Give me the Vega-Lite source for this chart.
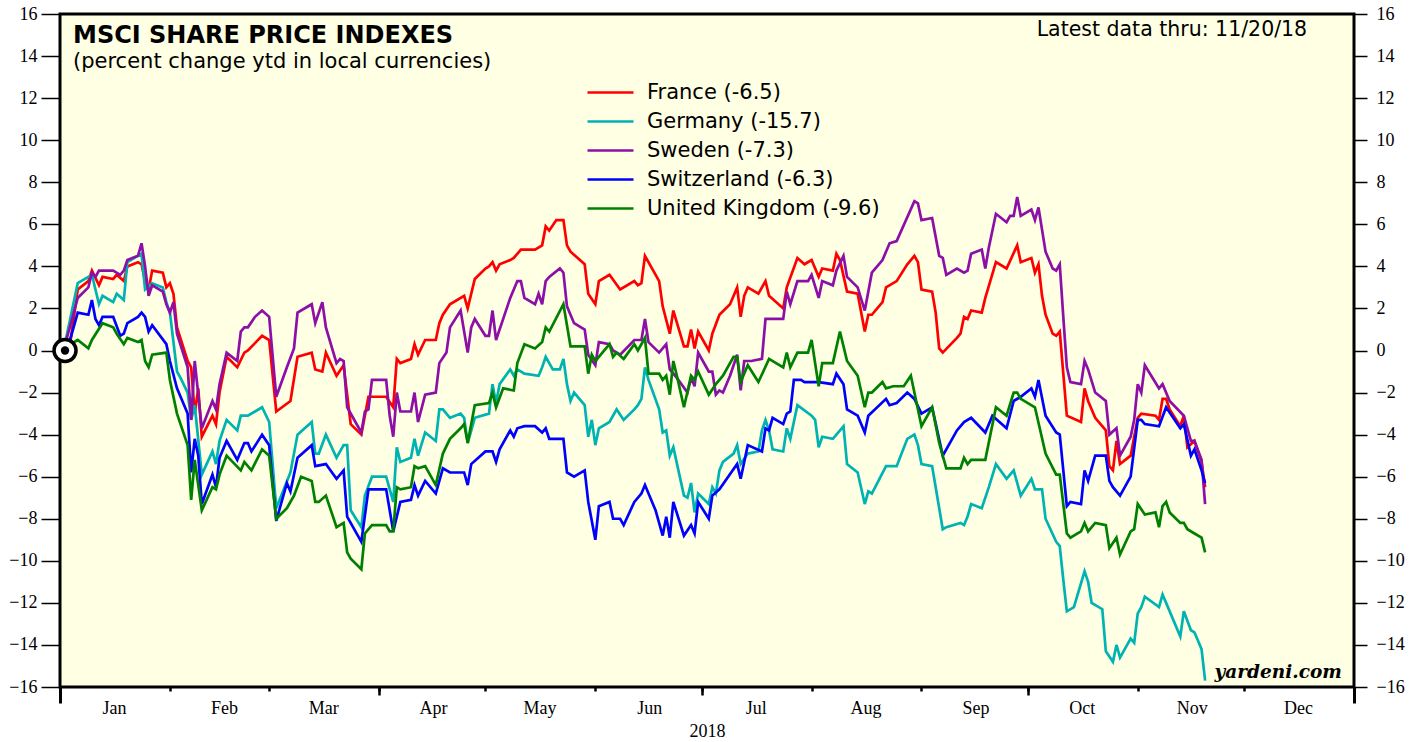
{
"$schema":"https://vega.github.io/schema/vega-lite/v6.json",
"width":1294,"height":673,
"autosize":{"type":"none"},
"padding":{"left":60,"top":14,"right":65,"bottom":55},
"background":"white",
"view":{"fill":"#FFFFE3","stroke":"black","strokeWidth":3},
"config":{"axis":{"labelFont":"Liberation Serif","labelFontSize":18,"labelColor":"black","tickColor":"black","tickWidth":1.5,"domain":false,"grid":false,"titleFont":"Liberation Serif","titleFontWeight":"normal","titleFontSize":18,"titleColor":"black"}},
"datasets":{
"F":[{"d":"2018-01-02","v":0},{"d":"2018-01-04","v":0.5},{"d":"2018-01-06","v":2.9},{"d":"2018-01-09","v":3.3},{"d":"2018-01-10","v":3.8},{"d":"2018-01-12","v":3.1},{"d":"2018-01-13","v":3.5},{"d":"2018-01-16","v":3.4},{"d":"2018-01-17","v":3.6},{"d":"2018-01-19","v":3.3},{"d":"2018-01-20","v":4.0},{"d":"2018-01-23","v":4.2},{"d":"2018-01-24","v":4.1},{"d":"2018-01-25","v":3.3},{"d":"2018-01-26","v":2.9},{"d":"2018-01-27","v":3.8},{"d":"2018-01-30","v":3.7},{"d":"2018-01-31","v":3.0},{"d":"2018-02-01","v":3.2},{"d":"2018-02-02","v":2.7},{"d":"2018-02-03","v":1.1},{"d":"2018-02-06","v":-0.5},{"d":"2018-02-07","v":-0.8},{"d":"2018-02-08","v":-3.0},{"d":"2018-02-09","v":-1.8},{"d":"2018-02-10","v":-4.1},{"d":"2018-02-13","v":-3.1},{"d":"2018-02-14","v":-3.5},{"d":"2018-02-15","v":-2.0},{"d":"2018-02-17","v":-0.3},{"d":"2018-02-20","v":-0.8},{"d":"2018-02-22","v":-0.1},{"d":"2018-02-23","v":0.0},{"d":"2018-02-27","v":0.7},{"d":"2018-03-01","v":0.5},{"d":"2018-03-03","v":-2.9},{"d":"2018-03-07","v":-2.4},{"d":"2018-03-09","v":-0.3},{"d":"2018-03-13","v":-0.1},{"d":"2018-03-14","v":-0.9},{"d":"2018-03-16","v":-1.0},{"d":"2018-03-17","v":-0.1},{"d":"2018-03-20","v":-1.2},{"d":"2018-03-22","v":-0.7},{"d":"2018-03-24","v":-3.5},{"d":"2018-03-27","v":-4.0},{"d":"2018-03-29","v":-2.2},{"d":"2018-04-03","v":-2.2},{"d":"2018-04-05","v":-2.7},{"d":"2018-04-06","v":-0.4},{"d":"2018-04-07","v":-0.6},{"d":"2018-04-10","v":-0.4},{"d":"2018-04-11","v":0.3},{"d":"2018-04-12","v":-0.2},{"d":"2018-04-14","v":0.5},{"d":"2018-04-17","v":0.5},{"d":"2018-04-18","v":1.3},{"d":"2018-04-19","v":1.7},{"d":"2018-04-21","v":2.2},{"d":"2018-04-25","v":2.6},{"d":"2018-04-26","v":2.0},{"d":"2018-04-28","v":3.4},{"d":"2018-05-01","v":3.9},{"d":"2018-05-02","v":4.0},{"d":"2018-05-03","v":4.2},{"d":"2018-05-04","v":3.8},{"d":"2018-05-05","v":4.1},{"d":"2018-05-08","v":4.3},{"d":"2018-05-09","v":4.4},{"d":"2018-05-11","v":4.8},{"d":"2018-05-15","v":4.8},{"d":"2018-05-17","v":5.0},{"d":"2018-05-18","v":5.9},{"d":"2018-05-19","v":5.7},{"d":"2018-05-21","v":6.2},{"d":"2018-05-23","v":6.2},{"d":"2018-05-24","v":5.0},{"d":"2018-05-25","v":4.7},{"d":"2018-05-29","v":4.1},{"d":"2018-05-30","v":2.7},{"d":"2018-06-01","v":2.2},{"d":"2018-06-02","v":3.3},{"d":"2018-06-05","v":3.6},{"d":"2018-06-08","v":2.9},{"d":"2018-06-12","v":3.3},{"d":"2018-06-13","v":3.1},{"d":"2018-06-14","v":3.2},{"d":"2018-06-15","v":4.5},{"d":"2018-06-19","v":3.3},{"d":"2018-06-20","v":2.1},{"d":"2018-06-22","v":0.8},{"d":"2018-06-23","v":1.9},{"d":"2018-06-26","v":0.2},{"d":"2018-06-27","v":0.2},{"d":"2018-06-28","v":1.0},{"d":"2018-06-29","v":0.1},{"d":"2018-06-30","v":0.9},{"d":"2018-07-03","v":0.0},{"d":"2018-07-04","v":0.8},{"d":"2018-07-06","v":1.7},{"d":"2018-07-09","v":2.2},{"d":"2018-07-11","v":3.0},{"d":"2018-07-12","v":1.6},{"d":"2018-07-13","v":2.6},{"d":"2018-07-14","v":3.0},{"d":"2018-07-17","v":2.7},{"d":"2018-07-19","v":3.3},{"d":"2018-07-20","v":2.6},{"d":"2018-07-24","v":2.0},{"d":"2018-07-25","v":3.0},{"d":"2018-07-28","v":4.4},{"d":"2018-07-30","v":4.1},{"d":"2018-08-01","v":4.3},{"d":"2018-08-03","v":3.5},{"d":"2018-08-04","v":3.9},{"d":"2018-08-07","v":3.8},{"d":"2018-08-08","v":4.6},{"d":"2018-08-09","v":4.3},{"d":"2018-08-11","v":2.8},{"d":"2018-08-14","v":2.7},{"d":"2018-08-16","v":0.9},{"d":"2018-08-17","v":1.7},{"d":"2018-08-18","v":1.7},{"d":"2018-08-21","v":2.3},{"d":"2018-08-22","v":3.0},{"d":"2018-08-25","v":3.3},{"d":"2018-08-28","v":4.1},{"d":"2018-08-30","v":4.5},{"d":"2018-08-31","v":4.2},{"d":"2018-09-01","v":2.9},{"d":"2018-09-04","v":2.8},{"d":"2018-09-05","v":1.8},{"d":"2018-09-06","v":0.1},{"d":"2018-09-07","v":-0.1},{"d":"2018-09-11","v":0.6},{"d":"2018-09-12","v":0.8},{"d":"2018-09-13","v":1.6},{"d":"2018-09-14","v":1.5},{"d":"2018-09-15","v":1.9},{"d":"2018-09-18","v":1.8},{"d":"2018-09-19","v":2.5},{"d":"2018-09-22","v":4.2},{"d":"2018-09-25","v":3.9},{"d":"2018-09-28","v":5.0},{"d":"2018-09-29","v":4.2},{"d":"2018-10-02","v":4.4},{"d":"2018-10-03","v":3.7},{"d":"2018-10-04","v":4.1},{"d":"2018-10-05","v":2.6},{"d":"2018-10-06","v":1.7},{"d":"2018-10-08","v":0.8},{"d":"2018-10-09","v":0.7},{"d":"2018-10-10","v":0.9},{"d":"2018-10-11","v":-1.1},{"d":"2018-10-12","v":-3.1},{"d":"2018-10-16","v":-3.4},{"d":"2018-10-17","v":-1.8},{"d":"2018-10-18","v":-2.4},{"d":"2018-10-20","v":-3.2},{"d":"2018-10-23","v":-3.8},{"d":"2018-10-24","v":-5.5},{"d":"2018-10-25","v":-5.7},{"d":"2018-10-26","v":-4.3},{"d":"2018-10-27","v":-5.4},{"d":"2018-10-30","v":-5.0},{"d":"2018-11-01","v":-3.2},{"d":"2018-11-02","v":-3.0},{"d":"2018-11-06","v":-3.1},{"d":"2018-11-07","v":-3.3},{"d":"2018-11-08","v":-2.3},{"d":"2018-11-09","v":-2.3},{"d":"2018-11-10","v":-2.8},{"d":"2018-11-13","v":-3.6},{"d":"2018-11-14","v":-3.1},{"d":"2018-11-15","v":-4.6},{"d":"2018-11-17","v":-4.3},{"d":"2018-11-19","v":-5.3},{"d":"2018-11-20","v":-6.5}],
"G":[{"d":"2018-01-02","v":0},{"d":"2018-01-06","v":3.2},{"d":"2018-01-10","v":3.6},{"d":"2018-01-12","v":2.2},{"d":"2018-01-13","v":2.6},{"d":"2018-01-16","v":2.3},{"d":"2018-01-17","v":2.7},{"d":"2018-01-19","v":2.4},{"d":"2018-01-20","v":4.2},{"d":"2018-01-23","v":4.5},{"d":"2018-01-24","v":4.6},{"d":"2018-01-25","v":2.9},{"d":"2018-01-27","v":3.2},{"d":"2018-01-30","v":3.0},{"d":"2018-01-31","v":2.3},{"d":"2018-02-01","v":1.8},{"d":"2018-02-03","v":-1.0},{"d":"2018-02-04","v":-1.3},{"d":"2018-02-06","v":-2.0},{"d":"2018-02-07","v":-3.3},{"d":"2018-02-08","v":-2.6},{"d":"2018-02-10","v":-5.9},{"d":"2018-02-13","v":-4.8},{"d":"2018-02-14","v":-5.4},{"d":"2018-02-15","v":-4.3},{"d":"2018-02-17","v":-3.3},{"d":"2018-02-20","v":-3.8},{"d":"2018-02-21","v":-3.1},{"d":"2018-02-23","v":-3.1},{"d":"2018-02-27","v":-2.7},{"d":"2018-03-01","v":-3.4},{"d":"2018-03-03","v":-7.5},{"d":"2018-03-07","v":-5.8},{"d":"2018-03-09","v":-4.0},{"d":"2018-03-13","v":-3.4},{"d":"2018-03-14","v":-4.9},{"d":"2018-03-15","v":-4.9},{"d":"2018-03-17","v":-4.0},{"d":"2018-03-20","v":-5.1},{"d":"2018-03-22","v":-4.5},{"d":"2018-03-23","v":-4.5},{"d":"2018-03-24","v":-7.6},{"d":"2018-03-27","v":-8.4},{"d":"2018-03-28","v":-6.9},{"d":"2018-03-30","v":-6.0},{"d":"2018-04-03","v":-6.0},{"d":"2018-04-05","v":-7.2},{"d":"2018-04-06","v":-4.6},{"d":"2018-04-07","v":-5.3},{"d":"2018-04-10","v":-5.1},{"d":"2018-04-11","v":-4.2},{"d":"2018-04-12","v":-5.0},{"d":"2018-04-14","v":-3.9},{"d":"2018-04-17","v":-4.3},{"d":"2018-04-18","v":-2.8},{"d":"2018-04-19","v":-2.8},{"d":"2018-04-21","v":-3.2},{"d":"2018-04-24","v":-3.0},{"d":"2018-04-25","v":-3.2},{"d":"2018-04-26","v":-4.4},{"d":"2018-04-28","v":-3.2},{"d":"2018-05-02","v":-3.0},{"d":"2018-05-03","v":-1.6},{"d":"2018-05-04","v":-2.5},{"d":"2018-05-05","v":-1.6},{"d":"2018-05-08","v":-0.9},{"d":"2018-05-09","v":-1.2},{"d":"2018-05-10","v":-0.9},{"d":"2018-05-12","v":-1.1},{"d":"2018-05-16","v":-1.2},{"d":"2018-05-17","v":-0.8},{"d":"2018-05-18","v":-0.3},{"d":"2018-05-20","v":-0.9},{"d":"2018-05-22","v":-0.9},{"d":"2018-05-23","v":-0.4},{"d":"2018-05-24","v":-1.6},{"d":"2018-05-25","v":-2.4},{"d":"2018-05-26","v":-2.0},{"d":"2018-05-29","v":-2.6},{"d":"2018-05-30","v":-4.1},{"d":"2018-05-31","v":-3.3},{"d":"2018-06-01","v":-4.5},{"d":"2018-06-02","v":-3.7},{"d":"2018-06-05","v":-3.4},{"d":"2018-06-07","v":-2.8},{"d":"2018-06-09","v":-3.3},{"d":"2018-06-12","v":-2.8},{"d":"2018-06-13","v":-2.6},{"d":"2018-06-14","v":-2.3},{"d":"2018-06-15","v":-0.8},{"d":"2018-06-16","v":-1.4},{"d":"2018-06-19","v":-2.8},{"d":"2018-06-20","v":-3.9},{"d":"2018-06-21","v":-3.8},{"d":"2018-06-22","v":-5.0},{"d":"2018-06-23","v":-4.6},{"d":"2018-06-26","v":-6.9},{"d":"2018-06-27","v":-7.0},{"d":"2018-06-28","v":-6.3},{"d":"2018-06-29","v":-7.7},{"d":"2018-06-30","v":-6.8},{"d":"2018-07-03","v":-7.3},{"d":"2018-07-04","v":-6.5},{"d":"2018-07-05","v":-6.8},{"d":"2018-07-06","v":-5.7},{"d":"2018-07-07","v":-5.3},{"d":"2018-07-10","v":-4.9},{"d":"2018-07-11","v":-4.5},{"d":"2018-07-12","v":-5.4},{"d":"2018-07-14","v":-4.9},{"d":"2018-07-17","v":-4.8},{"d":"2018-07-18","v":-3.8},{"d":"2018-07-19","v":-3.3},{"d":"2018-07-20","v":-3.8},{"d":"2018-07-21","v":-4.7},{"d":"2018-07-24","v":-4.8},{"d":"2018-07-25","v":-3.7},{"d":"2018-07-26","v":-4.2},{"d":"2018-07-28","v":-2.6},{"d":"2018-08-01","v":-3.1},{"d":"2018-08-02","v":-3.3},{"d":"2018-08-03","v":-4.6},{"d":"2018-08-04","v":-4.1},{"d":"2018-08-07","v":-4.2},{"d":"2018-08-08","v":-4.0},{"d":"2018-08-10","v":-3.6},{"d":"2018-08-11","v":-5.4},{"d":"2018-08-14","v":-5.8},{"d":"2018-08-16","v":-7.3},{"d":"2018-08-17","v":-6.7},{"d":"2018-08-18","v":-6.8},{"d":"2018-08-22","v":-5.5},{"d":"2018-08-25","v":-5.5},{"d":"2018-08-28","v":-4.2},{"d":"2018-08-30","v":-4.0},{"d":"2018-08-31","v":-4.5},{"d":"2018-09-01","v":-5.4},{"d":"2018-09-04","v":-5.5},{"d":"2018-09-07","v":-8.5},{"d":"2018-09-08","v":-8.4},{"d":"2018-09-12","v":-8.2},{"d":"2018-09-13","v":-8.3},{"d":"2018-09-14","v":-7.9},{"d":"2018-09-15","v":-7.3},{"d":"2018-09-18","v":-7.5},{"d":"2018-09-20","v":-6.5},{"d":"2018-09-22","v":-5.4},{"d":"2018-09-25","v":-6.1},{"d":"2018-09-27","v":-5.7},{"d":"2018-09-29","v":-6.9},{"d":"2018-10-02","v":-6.1},{"d":"2018-10-03","v":-6.6},{"d":"2018-10-05","v":-6.6},{"d":"2018-10-06","v":-8.0},{"d":"2018-10-09","v":-9.1},{"d":"2018-10-10","v":-9.3},{"d":"2018-10-11","v":-10.9},{"d":"2018-10-12","v":-12.4},{"d":"2018-10-14","v":-12.2},{"d":"2018-10-17","v":-10.5},{"d":"2018-10-18","v":-11.0},{"d":"2018-10-19","v":-12.0},{"d":"2018-10-22","v":-12.3},{"d":"2018-10-23","v":-14.3},{"d":"2018-10-25","v":-14.8},{"d":"2018-10-26","v":-14.0},{"d":"2018-10-27","v":-14.6},{"d":"2018-10-30","v":-13.7},{"d":"2018-10-31","v":-13.9},{"d":"2018-11-01","v":-12.5},{"d":"2018-11-02","v":-12.2},{"d":"2018-11-03","v":-11.7},{"d":"2018-11-07","v":-12.2},{"d":"2018-11-08","v":-11.6},{"d":"2018-11-09","v":-12.0},{"d":"2018-11-13","v":-13.6},{"d":"2018-11-14","v":-12.4},{"d":"2018-11-16","v":-13.3},{"d":"2018-11-17","v":-13.4},{"d":"2018-11-19","v":-14.2},{"d":"2018-11-20","v":-15.7}],
"S":[{"d":"2018-01-02","v":0},{"d":"2018-01-06","v":2.5},{"d":"2018-01-09","v":3.0},{"d":"2018-01-10","v":3.7},{"d":"2018-01-11","v":3.5},{"d":"2018-01-12","v":3.8},{"d":"2018-01-16","v":3.8},{"d":"2018-01-18","v":3.6},{"d":"2018-01-19","v":3.8},{"d":"2018-01-20","v":4.3},{"d":"2018-01-23","v":4.5},{"d":"2018-01-24","v":5.1},{"d":"2018-01-25","v":4.0},{"d":"2018-01-26","v":2.6},{"d":"2018-01-27","v":3.1},{"d":"2018-01-30","v":2.8},{"d":"2018-01-31","v":2.2},{"d":"2018-02-01","v":1.8},{"d":"2018-02-02","v":2.3},{"d":"2018-02-03","v":0.8},{"d":"2018-02-06","v":-0.8},{"d":"2018-02-07","v":-3.3},{"d":"2018-02-08","v":-0.5},{"d":"2018-02-10","v":-3.7},{"d":"2018-02-13","v":-2.4},{"d":"2018-02-14","v":-2.8},{"d":"2018-02-15","v":-1.6},{"d":"2018-02-17","v":-0.1},{"d":"2018-02-20","v":-0.5},{"d":"2018-02-21","v":0.9},{"d":"2018-02-22","v":1.1},{"d":"2018-02-23","v":1.1},{"d":"2018-02-25","v":1.6},{"d":"2018-02-27","v":1.9},{"d":"2018-03-01","v":1.6},{"d":"2018-03-03","v":-2.2},{"d":"2018-03-06","v":-0.8},{"d":"2018-03-08","v":0.1},{"d":"2018-03-09","v":1.8},{"d":"2018-03-13","v":2.2},{"d":"2018-03-14","v":1.3},{"d":"2018-03-16","v":2.3},{"d":"2018-03-17","v":1.1},{"d":"2018-03-20","v":-0.6},{"d":"2018-03-21","v":-0.4},{"d":"2018-03-22","v":-0.5},{"d":"2018-03-23","v":-2.7},{"d":"2018-03-27","v":-3.9},{"d":"2018-03-28","v":-2.9},{"d":"2018-03-29","v":-2.8},{"d":"2018-03-30","v":-1.4},{"d":"2018-04-03","v":-1.4},{"d":"2018-04-04","v":-3.1},{"d":"2018-04-05","v":-4.1},{"d":"2018-04-06","v":-2.0},{"d":"2018-04-07","v":-2.9},{"d":"2018-04-10","v":-2.9},{"d":"2018-04-11","v":-2.0},{"d":"2018-04-12","v":-3.4},{"d":"2018-04-14","v":-2.1},{"d":"2018-04-17","v":-2.0},{"d":"2018-04-18","v":-0.6},{"d":"2018-04-20","v":-0.1},{"d":"2018-04-21","v":1.1},{"d":"2018-04-24","v":1.9},{"d":"2018-04-26","v":-0.1},{"d":"2018-04-27","v":1.1},{"d":"2018-04-28","v":1.5},{"d":"2018-05-01","v":0.7},{"d":"2018-05-02","v":0.7},{"d":"2018-05-03","v":1.9},{"d":"2018-05-04","v":0.5},{"d":"2018-05-08","v":2.5},{"d":"2018-05-10","v":3.3},{"d":"2018-05-11","v":3.3},{"d":"2018-05-12","v":2.5},{"d":"2018-05-15","v":2.2},{"d":"2018-05-16","v":2.7},{"d":"2018-05-17","v":2.2},{"d":"2018-05-18","v":3.3},{"d":"2018-05-19","v":3.5},{"d":"2018-05-22","v":3.9},{"d":"2018-05-23","v":3.7},{"d":"2018-05-24","v":2.1},{"d":"2018-05-26","v":1.3},{"d":"2018-05-29","v":1.0},{"d":"2018-05-30","v":-0.2},{"d":"2018-06-01","v":-0.7},{"d":"2018-06-02","v":0.4},{"d":"2018-06-05","v":0.3},{"d":"2018-06-06","v":0.0},{"d":"2018-06-08","v":-0.2},{"d":"2018-06-12","v":0.5},{"d":"2018-06-14","v":0.5},{"d":"2018-06-15","v":1.5},{"d":"2018-06-16","v":0.4},{"d":"2018-06-19","v":-0.1},{"d":"2018-06-21","v":0.3},{"d":"2018-06-22","v":-0.9},{"d":"2018-06-24","v":-1.3},{"d":"2018-06-27","v":-2.0},{"d":"2018-06-28","v":-1.3},{"d":"2018-06-29","v":-1.7},{"d":"2018-06-30","v":-0.1},{"d":"2018-07-03","v":-1.0},{"d":"2018-07-04","v":-1.0},{"d":"2018-07-05","v":-2.1},{"d":"2018-07-06","v":-1.9},{"d":"2018-07-07","v":-2.0},{"d":"2018-07-09","v":-1.2},{"d":"2018-07-11","v":-0.2},{"d":"2018-07-12","v":-1.9},{"d":"2018-07-13","v":-0.5},{"d":"2018-07-15","v":-0.5},{"d":"2018-07-18","v":-0.4},{"d":"2018-07-19","v":1.5},{"d":"2018-07-24","v":1.5},{"d":"2018-07-25","v":2.8},{"d":"2018-07-26","v":2.2},{"d":"2018-07-28","v":3.3},{"d":"2018-07-31","v":3.3},{"d":"2018-08-01","v":3.6},{"d":"2018-08-03","v":2.5},{"d":"2018-08-04","v":3.3},{"d":"2018-08-07","v":3.1},{"d":"2018-08-08","v":3.8},{"d":"2018-08-10","v":4.5},{"d":"2018-08-11","v":3.5},{"d":"2018-08-14","v":3.0},{"d":"2018-08-16","v":1.9},{"d":"2018-08-18","v":3.7},{"d":"2018-08-21","v":4.3},{"d":"2018-08-23","v":5.1},{"d":"2018-08-25","v":5.2},{"d":"2018-08-30","v":7.1},{"d":"2018-08-31","v":7.0},{"d":"2018-09-01","v":6.2},{"d":"2018-09-04","v":6.3},{"d":"2018-09-06","v":4.5},{"d":"2018-09-07","v":4.4},{"d":"2018-09-08","v":3.6},{"d":"2018-09-11","v":3.9},{"d":"2018-09-13","v":3.7},{"d":"2018-09-14","v":3.8},{"d":"2018-09-15","v":4.6},{"d":"2018-09-18","v":4.8},{"d":"2018-09-19","v":3.9},{"d":"2018-09-20","v":4.9},{"d":"2018-09-22","v":6.5},{"d":"2018-09-25","v":6.1},{"d":"2018-09-26","v":6.4},{"d":"2018-09-27","v":6.4},{"d":"2018-09-28","v":7.3},{"d":"2018-09-29","v":6.4},{"d":"2018-10-02","v":6.7},{"d":"2018-10-03","v":6.2},{"d":"2018-10-04","v":6.8},{"d":"2018-10-06","v":4.7},{"d":"2018-10-08","v":3.9},{"d":"2018-10-09","v":3.8},{"d":"2018-10-10","v":4.1},{"d":"2018-10-11","v":1.6},{"d":"2018-10-12","v":-0.8},{"d":"2018-10-13","v":-1.5},{"d":"2018-10-16","v":-1.6},{"d":"2018-10-17","v":-0.5},{"d":"2018-10-18","v":-0.9},{"d":"2018-10-20","v":-2.0},{"d":"2018-10-23","v":-2.4},{"d":"2018-10-24","v":-4.0},{"d":"2018-10-26","v":-3.7},{"d":"2018-10-27","v":-5.0},{"d":"2018-10-30","v":-4.1},{"d":"2018-10-31","v":-3.3},{"d":"2018-11-01","v":-1.6},{"d":"2018-11-02","v":-2.0},{"d":"2018-11-03","v":-0.7},{"d":"2018-11-07","v":-1.8},{"d":"2018-11-08","v":-1.6},{"d":"2018-11-10","v":-2.4},{"d":"2018-11-14","v":-3.1},{"d":"2018-11-16","v":-4.3},{"d":"2018-11-17","v":-4.3},{"d":"2018-11-19","v":-5.2},{"d":"2018-11-20","v":-7.3}],
"W":[{"d":"2018-01-02","v":0},{"d":"2018-01-04","v":0.6},{"d":"2018-01-06","v":1.8},{"d":"2018-01-09","v":1.7},{"d":"2018-01-10","v":2.4},{"d":"2018-01-11","v":1.5},{"d":"2018-01-12","v":1.2},{"d":"2018-01-13","v":1.6},{"d":"2018-01-16","v":1.6},{"d":"2018-01-18","v":0.7},{"d":"2018-01-19","v":0.8},{"d":"2018-01-20","v":1.3},{"d":"2018-01-23","v":1.6},{"d":"2018-01-24","v":1.8},{"d":"2018-01-25","v":1.6},{"d":"2018-01-26","v":0.9},{"d":"2018-01-27","v":1.2},{"d":"2018-01-31","v":0.3},{"d":"2018-02-01","v":-0.5},{"d":"2018-02-03","v":-1.8},{"d":"2018-02-06","v":-3.0},{"d":"2018-02-07","v":-5.8},{"d":"2018-02-08","v":-4.2},{"d":"2018-02-09","v":-5.0},{"d":"2018-02-10","v":-7.3},{"d":"2018-02-13","v":-5.9},{"d":"2018-02-14","v":-6.5},{"d":"2018-02-15","v":-5.1},{"d":"2018-02-17","v":-4.3},{"d":"2018-02-20","v":-5.2},{"d":"2018-02-22","v":-4.4},{"d":"2018-02-23","v":-4.4},{"d":"2018-02-24","v":-4.8},{"d":"2018-02-27","v":-4.0},{"d":"2018-03-01","v":-4.5},{"d":"2018-03-03","v":-8.1},{"d":"2018-03-06","v":-6.3},{"d":"2018-03-07","v":-6.7},{"d":"2018-03-09","v":-5.1},{"d":"2018-03-13","v":-4.5},{"d":"2018-03-14","v":-5.5},{"d":"2018-03-17","v":-5.4},{"d":"2018-03-20","v":-6.1},{"d":"2018-03-22","v":-5.7},{"d":"2018-03-23","v":-7.9},{"d":"2018-03-27","v":-9.1},{"d":"2018-03-29","v":-6.6},{"d":"2018-04-03","v":-6.6},{"d":"2018-04-05","v":-8.6},{"d":"2018-04-07","v":-7.2},{"d":"2018-04-10","v":-7.1},{"d":"2018-04-11","v":-6.4},{"d":"2018-04-12","v":-6.9},{"d":"2018-04-14","v":-6.2},{"d":"2018-04-17","v":-6.8},{"d":"2018-04-19","v":-5.6},{"d":"2018-04-21","v":-5.8},{"d":"2018-04-25","v":-5.8},{"d":"2018-04-26","v":-6.4},{"d":"2018-04-27","v":-5.4},{"d":"2018-05-01","v":-4.8},{"d":"2018-05-03","v":-4.8},{"d":"2018-05-04","v":-5.3},{"d":"2018-05-05","v":-4.7},{"d":"2018-05-08","v":-3.8},{"d":"2018-05-09","v":-4.1},{"d":"2018-05-10","v":-3.7},{"d":"2018-05-12","v":-3.6},{"d":"2018-05-15","v":-3.6},{"d":"2018-05-17","v":-3.9},{"d":"2018-05-18","v":-3.7},{"d":"2018-05-19","v":-4.2},{"d":"2018-05-23","v":-4.2},{"d":"2018-05-24","v":-5.8},{"d":"2018-05-26","v":-6.0},{"d":"2018-05-29","v":-5.7},{"d":"2018-05-30","v":-7.2},{"d":"2018-06-01","v":-9.0},{"d":"2018-06-02","v":-7.4},{"d":"2018-06-05","v":-7.2},{"d":"2018-06-06","v":-8.0},{"d":"2018-06-08","v":-8.0},{"d":"2018-06-09","v":-8.3},{"d":"2018-06-12","v":-7.2},{"d":"2018-06-14","v":-6.8},{"d":"2018-06-15","v":-6.4},{"d":"2018-06-18","v":-7.6},{"d":"2018-06-20","v":-8.8},{"d":"2018-06-21","v":-7.9},{"d":"2018-06-22","v":-8.9},{"d":"2018-06-23","v":-7.2},{"d":"2018-06-26","v":-8.8},{"d":"2018-06-28","v":-8.3},{"d":"2018-06-29","v":-8.7},{"d":"2018-06-30","v":-7.2},{"d":"2018-07-03","v":-8.0},{"d":"2018-07-04","v":-6.9},{"d":"2018-07-06","v":-6.6},{"d":"2018-07-11","v":-5.4},{"d":"2018-07-12","v":-6.1},{"d":"2018-07-14","v":-4.5},{"d":"2018-07-18","v":-4.8},{"d":"2018-07-19","v":-3.7},{"d":"2018-07-20","v":-3.8},{"d":"2018-07-21","v":-3.2},{"d":"2018-07-24","v":-3.5},{"d":"2018-07-25","v":-3.0},{"d":"2018-07-26","v":-2.9},{"d":"2018-07-27","v":-1.4},{"d":"2018-07-29","v":-1.4},{"d":"2018-07-30","v":-1.5},{"d":"2018-08-03","v":-1.5},{"d":"2018-08-07","v":-1.6},{"d":"2018-08-08","v":-1.1},{"d":"2018-08-10","v":-1.6},{"d":"2018-08-11","v":-2.8},{"d":"2018-08-14","v":-3.1},{"d":"2018-08-16","v":-3.9},{"d":"2018-08-17","v":-3.1},{"d":"2018-08-22","v":-2.3},{"d":"2018-08-23","v":-2.6},{"d":"2018-08-25","v":-2.5},{"d":"2018-08-28","v":-2.0},{"d":"2018-08-30","v":-2.3},{"d":"2018-09-01","v":-3.0},{"d":"2018-09-04","v":-2.7},{"d":"2018-09-07","v":-5.0},{"d":"2018-09-11","v":-3.8},{"d":"2018-09-13","v":-3.4},{"d":"2018-09-15","v":-3.2},{"d":"2018-09-19","v":-3.9},{"d":"2018-09-21","v":-3.1},{"d":"2018-09-25","v":-3.7},{"d":"2018-09-27","v":-2.4},{"d":"2018-09-29","v":-2.2},{"d":"2018-10-02","v":-1.8},{"d":"2018-10-03","v":-2.2},{"d":"2018-10-04","v":-1.4},{"d":"2018-10-06","v":-3.1},{"d":"2018-10-09","v":-3.9},{"d":"2018-10-10","v":-4.0},{"d":"2018-10-12","v":-7.4},{"d":"2018-10-13","v":-7.2},{"d":"2018-10-16","v":-7.3},{"d":"2018-10-17","v":-5.7},{"d":"2018-10-18","v":-6.2},{"d":"2018-10-20","v":-5.0},{"d":"2018-10-23","v":-5.0},{"d":"2018-10-24","v":-6.2},{"d":"2018-10-25","v":-6.5},{"d":"2018-10-27","v":-6.9},{"d":"2018-10-30","v":-6.0},{"d":"2018-11-01","v":-3.3},{"d":"2018-11-02","v":-3.3},{"d":"2018-11-03","v":-3.5},{"d":"2018-11-07","v":-3.6},{"d":"2018-11-09","v":-2.7},{"d":"2018-11-13","v":-3.7},{"d":"2018-11-14","v":-3.5},{"d":"2018-11-16","v":-5.0},{"d":"2018-11-17","v":-4.7},{"d":"2018-11-19","v":-5.7},{"d":"2018-11-20","v":-6.3}],
"U":[{"d":"2018-01-02","v":0},{"d":"2018-01-04","v":0.3},{"d":"2018-01-06","v":0.5},{"d":"2018-01-09","v":0.1},{"d":"2018-01-10","v":0.5},{"d":"2018-01-13","v":1.3},{"d":"2018-01-16","v":1.1},{"d":"2018-01-17","v":0.8},{"d":"2018-01-19","v":0.3},{"d":"2018-01-20","v":0.6},{"d":"2018-01-23","v":0.4},{"d":"2018-01-24","v":0.5},{"d":"2018-01-25","v":-0.5},{"d":"2018-01-26","v":-0.8},{"d":"2018-01-27","v":-0.2},{"d":"2018-01-31","v":-0.1},{"d":"2018-02-01","v":-1.4},{"d":"2018-02-03","v":-3.0},{"d":"2018-02-06","v":-4.5},{"d":"2018-02-07","v":-7.1},{"d":"2018-02-08","v":-5.2},{"d":"2018-02-10","v":-7.6},{"d":"2018-02-13","v":-6.5},{"d":"2018-02-14","v":-6.6},{"d":"2018-02-15","v":-5.9},{"d":"2018-02-17","v":-5.0},{"d":"2018-02-21","v":-5.7},{"d":"2018-02-22","v":-5.3},{"d":"2018-02-24","v":-5.7},{"d":"2018-02-27","v":-4.7},{"d":"2018-03-01","v":-5.0},{"d":"2018-03-03","v":-8.0},{"d":"2018-03-06","v":-7.5},{"d":"2018-03-08","v":-6.9},{"d":"2018-03-10","v":-6.0},{"d":"2018-03-13","v":-6.2},{"d":"2018-03-14","v":-7.2},{"d":"2018-03-15","v":-7.2},{"d":"2018-03-17","v":-6.9},{"d":"2018-03-20","v":-8.4},{"d":"2018-03-22","v":-8.2},{"d":"2018-03-23","v":-9.6},{"d":"2018-03-24","v":-9.9},{"d":"2018-03-27","v":-10.4},{"d":"2018-03-28","v":-8.7},{"d":"2018-03-30","v":-8.3},{"d":"2018-04-03","v":-8.3},{"d":"2018-04-04","v":-8.6},{"d":"2018-04-05","v":-8.6},{"d":"2018-04-06","v":-6.5},{"d":"2018-04-07","v":-6.6},{"d":"2018-04-10","v":-6.5},{"d":"2018-04-11","v":-5.5},{"d":"2018-04-12","v":-5.6},{"d":"2018-04-14","v":-5.5},{"d":"2018-04-17","v":-6.4},{"d":"2018-04-19","v":-4.9},{"d":"2018-04-21","v":-4.2},{"d":"2018-04-24","v":-3.7},{"d":"2018-04-25","v":-3.5},{"d":"2018-04-26","v":-4.4},{"d":"2018-04-28","v":-2.6},{"d":"2018-05-02","v":-2.5},{"d":"2018-05-03","v":-2.0},{"d":"2018-05-04","v":-2.7},{"d":"2018-05-06","v":-1.8},{"d":"2018-05-09","v":-1.9},{"d":"2018-05-10","v":-0.6},{"d":"2018-05-12","v":0.3},{"d":"2018-05-15","v":0.1},{"d":"2018-05-17","v":0.4},{"d":"2018-05-18","v":1.1},{"d":"2018-05-19","v":0.9},{"d":"2018-05-23","v":2.2},{"d":"2018-05-25","v":0.2},{"d":"2018-05-26","v":0.2},{"d":"2018-05-29","v":0.2},{"d":"2018-05-30","v":-1.1},{"d":"2018-05-31","v":-0.2},{"d":"2018-06-01","v":-0.5},{"d":"2018-06-05","v":0.3},{"d":"2018-06-06","v":-0.3},{"d":"2018-06-07","v":-0.1},{"d":"2018-06-09","v":-0.4},{"d":"2018-06-12","v":0.3},{"d":"2018-06-13","v":0.0},{"d":"2018-06-15","v":0.6},{"d":"2018-06-16","v":-1.1},{"d":"2018-06-19","v":-1.1},{"d":"2018-06-20","v":-1.4},{"d":"2018-06-21","v":-1.2},{"d":"2018-06-22","v":-2.1},{"d":"2018-06-23","v":-0.5},{"d":"2018-06-24","v":-1.2},{"d":"2018-06-26","v":-2.7},{"d":"2018-06-28","v":-1.2},{"d":"2018-06-29","v":-1.4},{"d":"2018-06-30","v":-1.0},{"d":"2018-07-03","v":-2.1},{"d":"2018-07-05","v":-1.6},{"d":"2018-07-07","v":-1.2},{"d":"2018-07-10","v":-0.3},{"d":"2018-07-11","v":-0.3},{"d":"2018-07-12","v":-1.5},{"d":"2018-07-14","v":-0.7},{"d":"2018-07-17","v":-1.5},{"d":"2018-07-20","v":-0.4},{"d":"2018-07-24","v":-0.8},{"d":"2018-07-25","v":-0.1},{"d":"2018-07-26","v":-0.8},{"d":"2018-07-28","v":-0.1},{"d":"2018-07-31","v":-0.1},{"d":"2018-08-01","v":0.5},{"d":"2018-08-03","v":-1.7},{"d":"2018-08-04","v":-0.6},{"d":"2018-08-07","v":-0.6},{"d":"2018-08-09","v":0.9},{"d":"2018-08-11","v":-0.5},{"d":"2018-08-14","v":-1.2},{"d":"2018-08-16","v":-2.7},{"d":"2018-08-17","v":-2.0},{"d":"2018-08-18","v":-2.0},{"d":"2018-08-21","v":-1.5},{"d":"2018-08-22","v":-1.8},{"d":"2018-08-24","v":-1.7},{"d":"2018-08-27","v":-1.7},{"d":"2018-08-29","v":-1.2},{"d":"2018-09-01","v":-3.6},{"d":"2018-09-04","v":-2.7},{"d":"2018-09-06","v":-4.4},{"d":"2018-09-08","v":-5.6},{"d":"2018-09-12","v":-5.6},{"d":"2018-09-13","v":-5.1},{"d":"2018-09-14","v":-5.4},{"d":"2018-09-15","v":-5.2},{"d":"2018-09-19","v":-5.2},{"d":"2018-09-22","v":-2.7},{"d":"2018-09-25","v":-3.1},{"d":"2018-09-27","v":-2.0},{"d":"2018-09-28","v":-2.0},{"d":"2018-09-29","v":-2.3},{"d":"2018-10-03","v":-2.7},{"d":"2018-10-06","v":-4.9},{"d":"2018-10-09","v":-5.9},{"d":"2018-10-10","v":-5.9},{"d":"2018-10-12","v":-8.7},{"d":"2018-10-13","v":-8.9},{"d":"2018-10-16","v":-8.6},{"d":"2018-10-17","v":-8.2},{"d":"2018-10-18","v":-8.6},{"d":"2018-10-20","v":-8.2},{"d":"2018-10-23","v":-8.3},{"d":"2018-10-24","v":-9.4},{"d":"2018-10-26","v":-8.9},{"d":"2018-10-27","v":-9.7},{"d":"2018-10-30","v":-8.6},{"d":"2018-10-31","v":-8.5},{"d":"2018-11-01","v":-7.3},{"d":"2018-11-03","v":-7.8},{"d":"2018-11-06","v":-7.7},{"d":"2018-11-07","v":-8.4},{"d":"2018-11-08","v":-7.4},{"d":"2018-11-09","v":-7.2},{"d":"2018-11-10","v":-7.7},{"d":"2018-11-13","v":-8.2},{"d":"2018-11-14","v":-8.2},{"d":"2018-11-15","v":-8.5},{"d":"2018-11-17","v":-8.7},{"d":"2018-11-19","v":-8.9},{"d":"2018-11-20","v":-9.6}]
},
"resolve":{"axis":{"x":"independent","y":"independent"}},
"layer":[
{"mark":{"type":"rule","color":"black","strokeWidth":1},
 "encoding":{"y":{"datum":0,"type":"quantitative","scale":{"domain":[-16,16],"nice":false,"zero":false},
  "axis":{"orient":"left","values":[-16,-14,-12,-10,-8,-6,-4,-2,0,2,4,6,8,10,12,14,16],"tickSize":19,"labelPadding":4,"title":null}}}},
{"data":{"name":"F"},"mark":{"type":"line","strokeWidth":2.7},
 "encoding":{
  "x":{"field":"d","type":"temporal","scale":{"type":"utc","domain":[{"year":2018,"month":1,"date":1,"utc":true},{"year":2019,"month":1,"date":1,"utc":true}],"nice":false},
   "axis":{"orient":"bottom","title":"2018","titlePadding":5,
    "values":[{"year":2018,"month":1,"date":1,"utc":true},{"year":2018,"month":2,"date":1,"utc":true},{"year":2018,"month":3,"date":1,"utc":true},{"year":2018,"month":4,"date":1,"utc":true},{"year":2018,"month":5,"date":1,"utc":true},{"year":2018,"month":6,"date":1,"utc":true},{"year":2018,"month":7,"date":1,"utc":true},{"year":2018,"month":8,"date":1,"utc":true},{"year":2018,"month":9,"date":1,"utc":true},{"year":2018,"month":10,"date":1,"utc":true},{"year":2018,"month":11,"date":1,"utc":true},{"year":2018,"month":12,"date":1,"utc":true},{"year":2019,"month":1,"date":1,"utc":true}],
    "labelExpr":"utcyear(datum.value) > 2018 ? '' : utcFormat(datum.value, '%b')",
    "labelOffset":54,"labelPadding":8,"labelAlign":"center","labelFlush":false,"labelOverlap":false,
    "tickSize":4,"tickWidth":2.5}},
  "y":{"field":"v","type":"quantitative","axis":{"orient":"right","values":[-16,-14,-12,-10,-8,-6,-4,-2,0,2,4,6,8,10,12,14,16],"tickSize":13,"labelPadding":9,"title":null}},
  "color":{"datum":"France (-6.5)","type":"nominal",
   "scale":{"domain":["France (-6.5)","Germany (-15.7)","Sweden (-7.3)","Switzerland (-6.3)","United Kingdom (-9.6)"],"range":["#FF0000","#00B3B3","#8C10A8","#0000FF","#008000"]},
   "legend":{"orient":"none","legendX":526,"legendY":64,"title":null,"symbolType":"stroke","symbolSize":2116,"symbolStrokeWidth":2.5,"labelFont":"DejaVu Sans","labelFontSize":21,"labelColor":"black","labelOffset":12,"labelLimit":500,"clipHeight":29,"rowPadding":0,"padding":0}}}},
{"data":{"name":"G"},"mark":{"type":"line","strokeWidth":2.7},
 "encoding":{"x":{"field":"d","type":"temporal",
   "axis":{"orient":"bottom","title":null,"labels":false,"tickSize":8,"tickWidth":2.5,
    "values":[{"year":2018,"month":1,"date":1,"utc":true},{"year":2018,"month":4,"date":1,"utc":true},{"year":2018,"month":7,"date":1,"utc":true},{"year":2018,"month":10,"date":1,"utc":true}]}},
  "y":{"field":"v","type":"quantitative","axis":null},"color":{"datum":"Germany (-15.7)","type":"nominal"}}},
{"data":{"name":"S"},"mark":{"type":"line","strokeWidth":2.7},
 "encoding":{"x":{"field":"d","type":"temporal",
   "axis":{"orient":"bottom","title":null,"labels":false,"tickSize":16,"tickWidth":3,
    "values":[{"year":2018,"month":1,"date":1,"utc":true},{"year":2019,"month":1,"date":1,"utc":true}]}},
  "y":{"field":"v","type":"quantitative","axis":null},"color":{"datum":"Sweden (-7.3)","type":"nominal"}}},
{"data":{"name":"W"},"mark":{"type":"line","strokeWidth":2.7},
 "encoding":{"x":{"field":"d","type":"temporal","axis":null},"y":{"field":"v","type":"quantitative","axis":null},"color":{"datum":"Switzerland (-6.3)","type":"nominal"}}},
{"data":{"name":"U"},"mark":{"type":"line","strokeWidth":2.7},
 "encoding":{"x":{"field":"d","type":"temporal","axis":null},"y":{"field":"v","type":"quantitative","axis":null},"color":{"datum":"United Kingdom (-9.6)","type":"nominal"}}},
{"data":{"values":[{}]},"mark":{"type":"circle","size":484,"fill":"white","stroke":"black","strokeWidth":3.5,"opacity":1},
 "encoding":{"x":{"datum":1514887200000,"type":"temporal","axis":null},"y":{"datum":0,"type":"quantitative","axis":null}}},
{"data":{"values":[{}]},"mark":{"type":"circle","size":70,"fill":"black","opacity":1},
 "encoding":{"x":{"datum":1514887200000,"type":"temporal","axis":null},"y":{"datum":0,"type":"quantitative","axis":null}}},
{"data":{"values":[{}]},"mark":{"type":"text","text":"MSCI SHARE PRICE INDEXES","font":"DejaVu Sans","fontWeight":"bold","fontSize":24,"align":"left","baseline":"alphabetic","color":"black"},
 "encoding":{"x":{"datum":1515081600000,"type":"temporal","axis":null},"y":{"datum":14.62,"type":"quantitative","axis":null}}},
{"data":{"values":[{}]},"mark":{"type":"text","text":"(percent change ytd in local currencies)","font":"DejaVu Sans","fontSize":21,"align":"left","baseline":"alphabetic","color":"black"},
 "encoding":{"x":{"datum":1515081600000,"type":"temporal","axis":null},"y":{"datum":13.45,"type":"quantitative","axis":null}}},
{"data":{"values":[{}]},"mark":{"type":"text","text":"Latest data thru: 11/20/18","font":"DejaVu Sans","fontSize":20.5,"align":"right","baseline":"alphabetic","color":"black"},
 "encoding":{"x":{"datum":1545159600000,"type":"temporal","axis":null},"y":{"datum":14.97,"type":"quantitative","axis":null}}},
{"data":{"values":[{}]},"mark":{"type":"text","text":"yardeni.com","font":"DejaVu Serif","fontWeight":"bold","fontStyle":"italic","fontSize":18.5,"align":"right","baseline":"alphabetic","color":"black"},
 "encoding":{"x":{"datum":1546005600000,"type":"temporal","axis":null},"y":{"datum":-15.59,"type":"quantitative","axis":null}}}
]
}
